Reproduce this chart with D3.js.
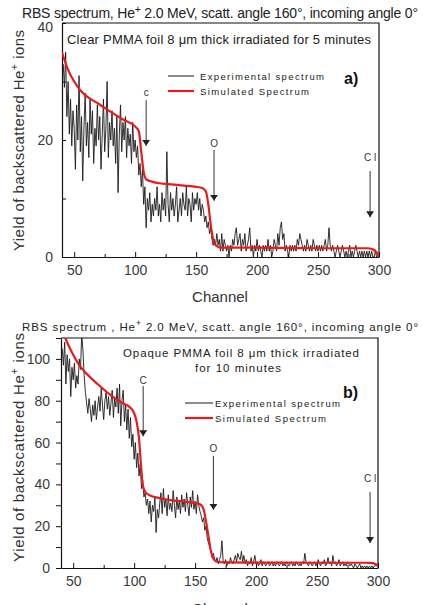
<!DOCTYPE html>
<html>
<head>
<meta charset="utf-8">
<script src="https://cdn.jsdelivr.net/npm/d3@7"></script>
<style>
  body { margin: 0; background: #fff; }
  svg { display: block; font-family: "Liberation Sans", Arial, sans-serif; }
  .tick-label { fill: #3a3a3a; font-size: 14px; }
</style>
</head>
<body>
<div id="chart"></div>
<script>
// channel numbers of the experimental spectra (one count per channel)
const channels = d3.range(41, 301);

// panel a) clear PMMA, experimental counts per channel (41..300)
const expA = [
  33, 29, 35, 24, 30, 21, 27, 19, 25, 22,
  15, 26, 20, 31, 18, 24, 13, 22, 28, 19,
  23, 17, 27, 21, 25, 16, 22, 19, 26, 20,
  24, 15, 21, 27, 18, 22, 30, 17, 23, 20,
  25, 19, 22, 16, 24, 11, 21, 26, 18, 23,
  20, 24, 17, 22, 19, 21, 16, 23, 18, 20,
  17, 19, 14, 16, 12, 15, 9, 12, 5, 10,
  8, 11, 6, 9, 7, 10, 8, 12, 7, 9,
  6, 11, 8, 10, 7, 18, 9, 6, 11, 8,
  10, 7, 9, 12, 6, 8, 10, 7, 11, 9,
  8, 12, 7, 10, 9, 6, 11, 8, 10, 9,
  11, 8, 10, 7, 9, 8, 6, 7, 5, 6,
  4, 5, 3, 2, 3, 2, 4, 2, 3, 1,
  4, 1, 3, 2, 1, 2, 0, 2, 1, 3,
  2, 4, 5, 2, 3, 4, 1, 3, 2, 4,
  1, 2, 3, 5, 1, 2, 0, 2, 1, 3,
  1, 2, 1, 0, 2, 1, 2, 1, 3, 1,
  2, 0, 1, 3, 2, 1, 4, 2, 5, 6,
  3, 4, 1, 2, 1, 0, 2, 1, 2, 1,
  2, 1, 3, 2, 4, 3, 2, 1, 2, 1,
  3, 2, 1, 2, 1, 3, 2, 1, 2, 1,
  2, 1, 2, 1, 2, 3, 1, 2, 5, 2,
  1, 2, 1, 0, 1, 2, 1, 0, 1, 2,
  1, 0, 1, 0, 1, 2, 0, 1, 0, 1,
  2, 1, 0, 1, 0, 1, 0, 1, 0, 1,
  0, 1, 0, 1, 0, 0, 1, 0, 0, 0
];

// panel a) simulated spectrum, read at knots
const simChannelsA = [40, 45, 50, 55, 60, 70, 80, 90, 100, 103, 105, 107, 109, 112, 120, 130, 140, 150, 155, 158, 160, 162, 164, 166, 170, 180, 200, 250, 290, 295, 298, 300];
const simValuesA = [35, 32, 30, 28.5, 27.5, 26.2, 24.8, 23.5, 22.3, 21.5, 18, 14.5, 13.3, 13, 12.6, 12.4, 12.2, 12, 11.8, 11.2, 9, 5.5, 3, 2, 1.6, 1.6, 1.6, 1.5, 1.5, 1.3, 0.8, 0];

// panel b) opaque PMMA, experimental counts per channel (41..300)
const expB = [
  105, 97, 108, 88, 102, 94, 100, 82, 96, 90,
  98, 86, 92, 88, 100, 95, 112, 104, 92, 84,
  79, 74, 81, 76, 70, 78, 73, 80, 71, 77,
  82, 75, 86, 78, 71, 80, 84, 76, 82, 73,
  79, 85, 72, 81, 77, 86, 74, 88, 68, 80,
  85, 70, 78, 66, 76, 62, 72, 58, 64, 52,
  60, 48, 55, 44, 50, 38, 42, 34, 36, 30,
  33, 26, 32, 22, 30, 27, 34, 17, 28, 24,
  31, 36, 26, 38, 29, 33, 25, 35, 28, 31,
  27, 37, 30, 24, 34, 28, 32, 26, 35, 29,
  33, 27, 36, 30, 25, 34, 29, 37, 28, 32,
  26, 35, 30, 27, 25, 22, 24, 18, 20, 14,
  12, 10, 8, 5, 7, 4, 3, 5, 2, 4,
  6, 13, 3, 2, 4, 1, 3, 2, 5, 3,
  2, 4, 6, 3, 7, 5, 4, 8, 3, 6,
  2, 4, 1, 3, 2, 5, 1, 3, 6, 2,
  3, 1, 2, 4, 1, 3, 2, 1, 2, 3,
  1, 2, 3, 1, 2, 1, 3, 2, 1, 2,
  3, 1, 2, 1, 3, 2, 1, 2, 3, 1,
  2, 1, 3, 2, 1, 2, 1, 3, 2, 7,
  3, 2, 1, 3, 2, 1, 2, 3, 1, 2,
  4, 2, 1, 3, 2, 4, 1, 2, 5, 2,
  3, 1, 6, 2, 3, 1, 2, 4, 1, 2,
  3, 1, 2, 1, 3, 2, 1, 2, 1, 0,
  2, 1, 0, 1, 2, 0, 1, 0, 1, 0,
  1, 0, 1, 0, 1, 0, 1, 1, 2, 1
];

// panel b) simulated spectrum, read at knots
const simChannelsB = [42, 45, 50, 55, 60, 70, 80, 90, 95, 98, 100, 102, 104, 105.5, 107, 109, 112, 120, 130, 140, 150, 154, 157, 159, 161, 163, 165, 168, 175, 200, 250, 290, 296, 300];
const simValuesB = [112, 108, 102, 97, 93.5, 88, 83, 79, 77.5, 76, 74, 70, 62, 50, 40, 36.5, 35, 33.5, 32.5, 31.8, 31, 30.5, 28, 22, 15, 8, 4.5, 3, 2.7, 2.6, 2.5, 2.5, 2.3, 1];

// element arrows: [label, channel, label y, arrow top, arrow tip] in counts
const arrowsA = [["c", 109, 28.2, 26.8, 19], ["O", 164.7, 19.5, 18.3, 9.6], ["C l", 292.7, 17.1, 14.7, 6.8]];
const arrowsB = [["C", 107.4, 90, 87, 63], ["O", 165, 57.4, 53.6, 27.8], ["C l", 293.5, 43, 36.4, 12]];

const svg = d3.select('#chart').append('svg')
  .attr('width', 423)
  .attr('height', 605);

svg.append('defs').append('marker')
  .attr('id', 'head')
  .attr('viewBox', '0 0 6 8')
  .attr('refX', 6).attr('refY', 4)
  .attr('markerWidth', 6).attr('markerHeight', 8)
  .attr('markerUnits', 'userSpaceOnUse')
  .attr('orient', 'auto')
  .append('path').attr('d', 'M0,0 L6,4 L0,8 Z').attr('fill', '#222');

function drawPanel(cfg) {
  const x = d3.scaleLinear().domain([40, 300]).range([cfg.left, cfg.right]);
  const y = d3.scaleLinear().domain([0, cfg.yMax]).range([cfg.bottom, cfg.top]);

  const g = svg.append('g');

  g.append('clipPath').attr('id', cfg.id + '-clip')
    .append('rect')
    .attr('x', cfg.left).attr('y', cfg.top)
    .attr('width', cfg.right - cfg.left).attr('height', cfg.bottom - cfg.top);

  // title
  g.append('text')
    .attr('x', 22).attr('y', cfg.titleY)
    .attr('textLength', 396).attr('lengthAdjust', 'spacing')
    .style('font-size', cfg.titleSize + 'px').attr('fill', '#222')
    .html('RBS spectrum' + cfg.titleComma + ' He<tspan dy="-5" font-size="' + (cfg.titleSize * 0.75) + 'px">+</tspan><tspan dy="5"> 2.0 MeV, scatt. angle 160°, incoming angle 0°</tspan>');

  // axes
  const xAxis = d3.axisBottom(x)
    .tickValues(d3.range(50, 301, 25))
    .tickSize(-5).tickSizeOuter(0)
    .tickFormat(d => d % 50 === 0 ? d : '');
  const xg = g.append('g').attr('transform', `translate(0,${cfg.bottom})`).call(xAxis);
  xg.selectAll('.tick line').attr('y2', d => d % 50 === 0 ? -5 : -3);

  const yAxis = d3.axisLeft(y)
    .tickValues(d3.range(0, cfg.yMax + 1, 10))
    .tickSize(cfg.yTickSize).tickSizeOuter(0)
    .tickPadding(cfg.yPad)
    .tickFormat(d => d % cfg.yLabelStep === 0 ? d : '');
  const yg = g.append('g').attr('transform', `translate(${cfg.left},0)`).call(yAxis);

  [xg, yg].forEach(a => {
    a.select('.domain').attr('stroke', '#111').attr('stroke-width', 1.2);
    a.selectAll('.tick line').attr('stroke', '#111');
    a.selectAll('.tick text').attr('class', 'tick-label').style('font-size', '14px')
      .style('font-family', '"Liberation Sans", Arial, sans-serif');
  });
  xg.selectAll('.tick text').attr('dy', '1.05em');
  // top label sits a little under the frame in panel a
  yg.selectAll('.tick text').filter(d => d === cfg.yMax).attr('dy', cfg.topLabelDy);

  // top and right frame
  g.append('path')
    .attr('d', `M${cfg.left},${cfg.top}H${cfg.right}V${cfg.bottom}`)
    .attr('fill', 'none').attr('stroke', '#111').attr('stroke-width', 1.2);

  const plot = g.append('g').attr('clip-path', `url(#${cfg.id}-clip)`);

  const expLine = d3.line()
    .x((d, i) => x(channels[i]))
    .y(d => y(d));
  plot.append('path')
    .datum(cfg.exp)
    .attr('d', expLine)
    .attr('fill', 'none').attr('stroke', '#1a1a1a').attr('stroke-width', 0.9);

  const simLine = d3.line()
    .x((d, i) => x(cfg.simX[i]))
    .y(d => y(d))
    .curve(d3.curveMonotoneX);
  plot.append('path')
    .datum(cfg.simY)
    .attr('d', simLine)
    .attr('fill', 'none').attr('stroke', '#e81b1b').attr('stroke-width', 2.2);

  // element arrows
  cfg.arrows.forEach(a => {
    g.append('text')
      .attr('x', x(a[1])).attr('y', y(a[2]) + 4)
      .attr('text-anchor', 'middle')
      .style('font-size', '10px').attr('fill', '#333')
      .text(a[0]);
    g.append('line')
      .attr('x1', x(a[1])).attr('x2', x(a[1]))
      .attr('y1', y(a[3])).attr('y2', y(a[4]))
      .attr('stroke', '#333').attr('stroke-width', 1)
      .attr('marker-end', 'url(#head)');
  });

  // sample note
  cfg.note.forEach(n => {
    g.append('text')
      .attr('x', n.x).attr('y', n.y)
      .attr('textLength', n.w).attr('lengthAdjust', 'spacing')
      .style('font-size', cfg.noteSize + 'px').attr('fill', '#222')
      .text(n.t);
  });

  // legend
  const lg = [['Experimental spectrum', '#1a1a1a', 1, cfg.legW[0]], ['Simulated Spectrum', '#e81b1b', 2.2, cfg.legW[1]]];
  lg.forEach((l, i) => {
    const ly = cfg.legY + i * cfg.legGap;
    g.append('line')
      .attr('x1', cfg.legX).attr('x2', cfg.legX + cfg.legLen)
      .attr('y1', ly).attr('y2', ly)
      .attr('stroke', l[1]).attr('stroke-width', l[2]);
    g.append('text')
      .attr('x', cfg.legX + cfg.legLen + cfg.legPad).attr('y', ly + 3.5)
      .attr('textLength', l[3]).attr('lengthAdjust', 'spacing')
      .style('font-size', '9.5px').attr('fill', '#222')
      .text(l[0]);
  });

  g.append('text')
    .attr('x', cfg.tagX).attr('y', cfg.tagY)
    .style('font-size', '16px').style('font-weight', 'bold').attr('fill', '#111')
    .text(cfg.tag);

  // axis titles
  const cy = (cfg.ylabTop + cfg.ylabBottom) / 2;
  g.append('text')
    .attr('transform', `translate(24,${cy}) rotate(-90)`)
    .attr('text-anchor', 'middle')
    .attr('textLength', cfg.ylabBottom - cfg.ylabTop).attr('lengthAdjust', 'spacing')
    .style('font-size', '15px').attr('fill', '#333')
    .html('Yield of backscattered He<tspan dy="-6" font-size="11px">+</tspan><tspan dy="6"> ions</tspan>');

  g.append('text')
    .attr('x', 220).attr('y', cfg.xlabY)
    .attr('text-anchor', 'middle')
    .style('font-size', '15px').attr('fill', '#333')
    .text('Channel');
}

drawPanel({
  id: 'a', left: 62, right: 379, top: 23, bottom: 257, yMax: 40,
  yTickSize: -4, yPad: 9, yLabelStep: 20, topLabelDy: '0.6em',
  exp: expA, simX: simChannelsA, simY: simValuesA, arrows: arrowsA,
  titleY: 18, titleSize: 14, titleComma: ',',
  note: [{t: 'Clear PMMA foil 8 μm thick irradiated for 5 minutes', x: 67, y: 44, w: 304}],
  noteSize: 13,
  legX: 168, legLen: 26, legPad: 6, legY: 76, legGap: 15, legW: [124, 109],
  tag: 'a)', tagX: 344, tagY: 84,
  ylabTop: 30, ylabBottom: 251, xlabY: 302
});

drawPanel({
  id: 'b', left: 61, right: 378, top: 338, bottom: 568, yMax: 110,
  yTickSize: 5, yPad: 6, yLabelStep: 20, topLabelDy: '0.32em',
  exp: expB, simX: simChannelsB, simY: simValuesB, arrows: arrowsB,
  titleY: 331, titleSize: 11.5, titleComma: ' ,',
  note: [{t: 'Opaque PMMA foil 8 μm thick irradiated', x: 123, y: 357, w: 236},
         {t: 'for 10 minutes', x: 195, y: 372, w: 86}],
  noteSize: 11.5,
  legX: 185, legLen: 28, legPad: 2, legY: 403, legGap: 15, legW: [125, 111],
  tag: 'b)', tagX: 343, tagY: 398,
  ylabTop: 333, ylabBottom: 562, xlabY: 614
});
</script>
</body>
</html>
